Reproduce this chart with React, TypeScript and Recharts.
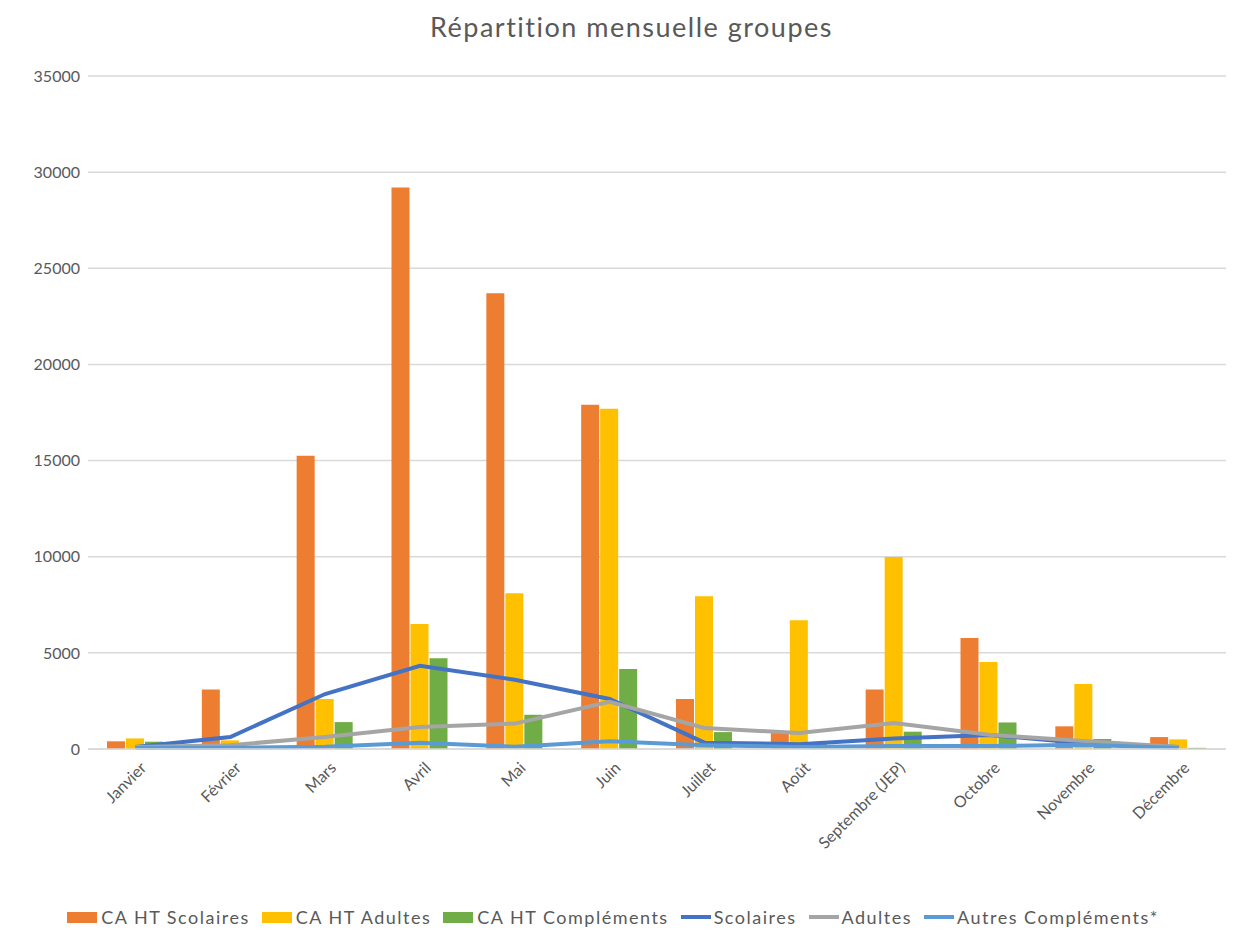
import {
  ComposedChart,
  CartesianGrid,
  XAxis,
  YAxis,
  Legend,
  Bar,
  Line
} from "recharts";

const months = [
  "Janvier", "Février", "Mars", "Avril", "Mai", "Juin",
  "Juillet", "Août", "Septembre (JEP)", "Octobre", "Novembre", "Décembre"
];

const caScolaires = [400, 3100, 15250, 29200, 23700, 17900, 2600, 830, 3100, 5770, 1180, 620];
const caAdultes = [550, 450, 2600, 6500, 8100, 17700, 7950, 6700, 9980, 4520, 3380, 500];
const caComplements = [380, 80, 1400, 4720, 1780, 4160, 880, 350, 900, 1380, 520, 60];
const scolaires = [100, 620, 2860, 4330, 3600, 2600, 330, 250, 550, 730, 300, 100];
const adultes = [100, 200, 620, 1140, 1320, 2450, 1090, 830, 1350, 740, 420, 100];
const autresComplements = [50, 60, 120, 330, 120, 400, 200, 100, 150, 150, 220, 50];

const yTicks = [0, 5000, 10000, 15000, 20000, 25000, 30000, 35000];

const chartData = months.map((m, i) => ({
  month: m,
  caScolaires: caScolaires[i],
  caAdultes: caAdultes[i],
  caComplements: caComplements[i],
  scolaires: scolaires[i],
  adultes: adultes[i],
  autresComplements: autresComplements[i]
}));

const FONT = "Lato, 'Open Sans', sans-serif";
const TEXT = "#595959";

const legendItems = [
  { label: "CA HT Scolaires", color: "#ED7D31", kind: "bar" },
  { label: "CA HT Adultes", color: "#FFC000", kind: "bar" },
  { label: "CA HT Compléments", color: "#70AD47", kind: "bar" },
  { label: "Scolaires", color: "#4472C4", kind: "line" },
  { label: "Adultes", color: "#A5A5A5", kind: "line" },
  { label: "Autres Compléments*", color: "#5B9BD5", kind: "line" }
];

const MonthTick = (props: any) => {
  const { x, y, payload } = props;
  return (
    <g transform={`translate(${x + 8},${y + 8})`}>
      <text
        transform="rotate(-45)"
        textAnchor="end"
        dy="0.35em"
        fill={TEXT}
        fontSize={16}
        fontFamily={FONT}
      >
        {payload.value}
      </text>
    </g>
  );
};

const LegendContent = () => (
  <div
    style={{
      display: "flex",
      justifyContent: "center",
      alignItems: "center",
      fontFamily: FONT,
      fontSize: 18,
      letterSpacing: 1.5,
      color: TEXT,
      gap: 12,
      paddingTop: 4
    }}
  >
    {legendItems.map(item => (
      <div key={item.label} style={{ display: "flex", alignItems: "center" }}>
        {item.kind === "bar" ? (
          <span style={{ width: 30, height: 11, background: item.color, marginRight: 4 }} />
        ) : (
          <span style={{ width: 30, height: 4, background: item.color, marginRight: 3 }} />
        )}
        <span>{item.label}</span>
      </div>
    ))}
  </div>
);

const App = () => {
  return (
    <div style={{ position: "absolute", left: 0, top: 0, width: 1243, height: 930, background: "#fff" }}>
      <div
        style={{
          position: "absolute",
          top: 10,
          left: 0,
          width: 1263,
          textAlign: "center",
          fontFamily: FONT,
          fontSize: 27,
          letterSpacing: 1.5,
          color: TEXT
        }}
      >
        Répartition mensuelle groupes
      </div>
      <ComposedChart
        width={1243}
        height={930}
        data={chartData}
        margin={{ top: 76, right: 17, left: 0, bottom: 0 }}
        barGap={1}
        barSize={18}
      >
        <CartesianGrid vertical={false} stroke="#d9d9d9" strokeWidth={1.5} />
        <XAxis
          dataKey="month"
          tick={<MonthTick />}
          tickLine={false}
          axisLine={{ stroke: "#d9d9d9", strokeWidth: 1.5 }}
          height={153}
          interval={0}
        />
        <YAxis
          width={88}
          domain={[0, 35000]}
          ticks={yTicks}
          tickLine={false}
          axisLine={false}
          tickMargin={2}
          tick={{ fill: TEXT, fontSize: 16, fontFamily: FONT }}
        />
        <Legend verticalAlign="bottom" height={28} content={<LegendContent />} />
        <Bar dataKey="caScolaires" name="CA HT Scolaires" fill="#ED7D31" isAnimationActive={false} />
        <Bar dataKey="caAdultes" name="CA HT Adultes" fill="#FFC000" isAnimationActive={false} />
        <Bar dataKey="caComplements" name="CA HT Compléments" fill="#70AD47" isAnimationActive={false} />
        <Line dataKey="scolaires" name="Scolaires" stroke="#4472C4" strokeWidth={4} dot={false} type="linear" isAnimationActive={false} />
        <Line dataKey="adultes" name="Adultes" stroke="#A5A5A5" strokeWidth={4} dot={false} type="linear" isAnimationActive={false} />
        <Line dataKey="autresComplements" name="Autres Compléments*" stroke="#5B9BD5" strokeWidth={4} dot={false} type="linear" isAnimationActive={false} />
      </ComposedChart>
    </div>
  );
};

export default App;
